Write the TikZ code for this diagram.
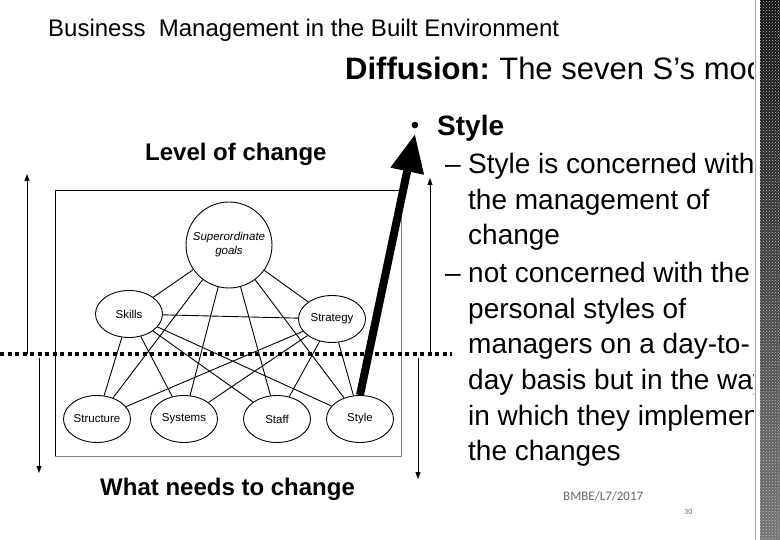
\documentclass[tikz,border=0pt]{standalone}
\usepackage{fontspec}
\setmainfont{Liberation Sans}
\newfontfamily\footfont{Carlito}
\usetikzlibrary{shapes.geometric,arrows.meta,patterns}
\tikzset{
  sball/.style={draw, ellipse, line width=0.9pt, minimum width=67pt, minimum height=47pt, inner sep=0pt, font=\fontsize{11.5}{13}\selectfont},
  slink/.style={line width=0.9pt},
  levarrow/.style={line width=0.9pt, -{Triangle[length=7pt,width=5pt]}},
  bigarrow/.style={line width=8pt, -{Triangle[length=38pt,width=32pt]}},
  bodyline/.style={anchor=base west, inner sep=0pt, font=\fontsize{28}{34}\selectfont},
}

\begin{document}
\begin{tikzpicture}[x=1pt,y=-1pt]
			%%%%% START %%%%%
			\useasboundingbox (0,0) rectangle (780,540);
			\fill[white] (0,0) rectangle (780,540);
			
			% headings
			\node[anchor=base west, inner sep=0pt, font=\fontsize{24}{28}\selectfont] (hdr) at (48,37) {Business\ \ Management in the Built Environment};
			\node[anchor=base west, inner sep=0pt, font=\fontsize{31}{34}\selectfont] (ttl) at (345,80) {\textbf{Diffusion:}\hspace{-2pt} The seven S’s model};
			\node[anchor=base west, inner sep=0pt, font=\bfseries\fontsize{24}{28}\selectfont] (lev) at (145,161) {Level of change};
			\node[anchor=base west, inner sep=0pt, font=\bfseries\fontsize{24}{28}\selectfont] (what) at (100,495) {What needs to change};
			
			% frame of the 7S picture
			\draw[line width=0.8pt] (55,456) -- (55,190) -- (401,190);
			\draw[gray, line width=0.8pt] (401,190) -- (401,456) -- (55,456);
			
			% the seven S's
			\node[draw, circle, line width=0.9pt, minimum size=86pt, inner sep=0pt, align=center, font=\itshape\fontsize{11.5}{14}\selectfont] (sg) at (229,245) {Superordinate\\goals};
			\node[sball] (sk) at (129,314) {Skills};
			\node[sball] (st) at (332,319) {Strategy};
			\node[sball] (str) at (97,419) {Structure};
			\node[sball] (sys) at (184,419) {Systems};
			\node[sball] (sta) at (277,419) {Staff};
			\node[sball] (sty) at (360,419) {Style};
			
			\foreach \n in {sk,st,str,sys,sta,sty}
				\draw[slink] (sg) -- (\n);
			\draw[slink] (sk) -- (st);
			\foreach \n in {str,sys,sta,sty}{
				\draw[slink] (sk) -- (\n);
				\draw[slink] (st) -- (\n);
			}
			
			% level of change
			\coordinate (lu) at (27,174);
			\coordinate (lb) at (27,354);
			\coordinate (ru) at (430,178);
			\coordinate (rb) at (430,354);
			\coordinate (ld0) at (39,358);
			\coordinate (ld) at (39,473);
			\coordinate (rd0) at (418,358);
			\coordinate (rd) at (418,479);
			\coordinate (dl) at (0,354);
			\coordinate (dr) at (452,354);
			\draw[levarrow] (lb) -- (lu);
			\draw[levarrow] (rb) -- (ru);
			\draw[levarrow] (ld0) -- (ld);
			\draw[levarrow] (rd0) -- (rd);
			\draw[line width=3.5pt, dash pattern=on 4pt off 3.5pt] (dl) -- (dr);
			
			\coordinate (tip) at (415,134);
			\draw[bigarrow] (sty.north) -- (tip);
			
			% bullet text
			\node[anchor=base, inner sep=0pt, font=\fontsize{24}{34}\selectfont] (bul) at (415,134) {\textbullet};
			\node[bodyline, font=\bfseries\fontsize{28}{34}\selectfont] (head) at (437,136) {Style};
			\node[bodyline] (d1) at (445,174) {–};
			\node[bodyline] (d2) at (445,283) {–};
			\foreach \txt [count=\i from 0] in {Style is concerned with, the management of, change}
				\node[bodyline] (a\i) at (468,174+35.5*\i) {\txt};
			\foreach \txt [count=\i from 0] in {not concerned with the, personal styles of, managers on a day-to-, day basis but in the way, in which they implement, the changes}
				\node[bodyline] (b\i) at (468,283+35.5*\i) {\txt};
			
			\node[anchor=base west, inner sep=0pt, text=gray!80!black, font=\footfont\fontsize{13}{15}\selectfont] (ref) at (563,500) {BMBE/L7/2017};
			\node[anchor=base west, inner sep=0pt, text=gray!80!black, font=\footfont\fontsize{8}{10}\selectfont] (pg) at (684,514) {30};
			
			% dark strip on the right
			\fill[white] (754,0) rectangle (780,540);
			\draw[gray!70, line width=1.2pt] (755.5,0) -- (755.5,540);
			\shade[top color=black!95, bottom color=black!55] (760,0) rectangle (780,540);
			\fill[pattern=crosshatch dots, pattern color=gray!45] (760,0) rectangle (780,540);
			%%%%% END %%%%%
\end{tikzpicture}
\end{document}
